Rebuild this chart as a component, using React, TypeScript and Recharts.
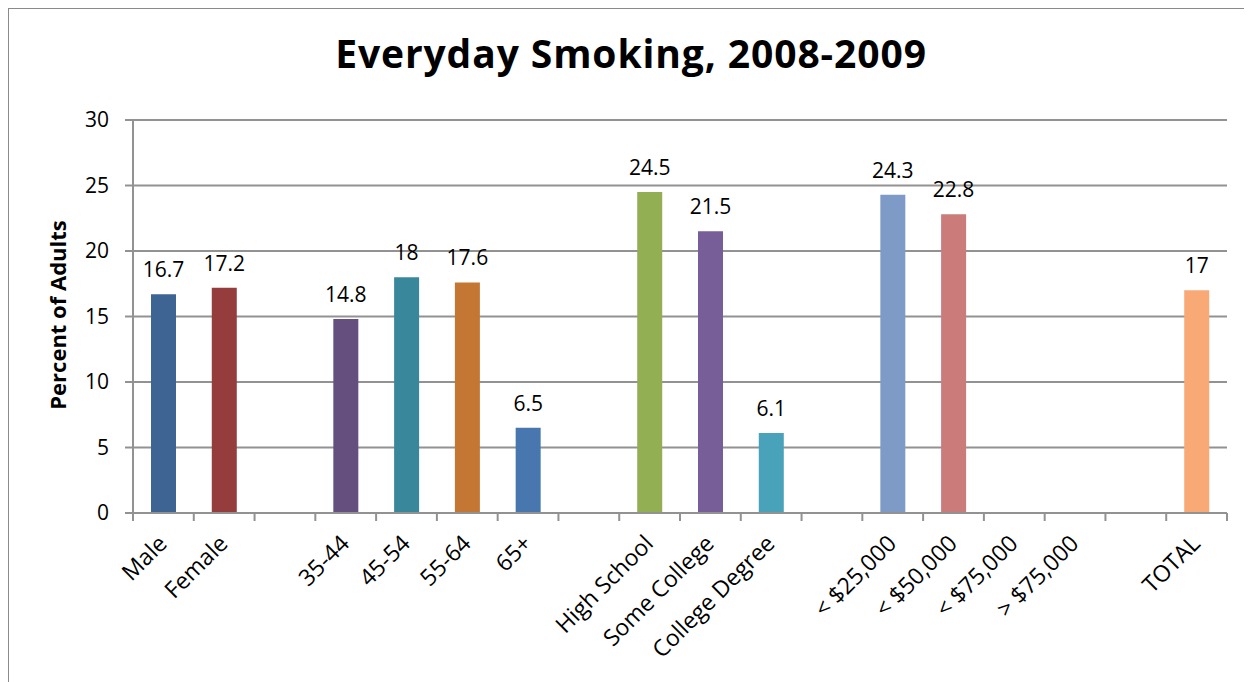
import { BarChart, Bar, XAxis, YAxis, CartesianGrid, Cell, LabelList } from 'recharts';

// categories (blank ones are the spacer slots between groups)
const categories = [
    'Male', 'Female', '',
    '35-44', '45-54', '55-64', '65+', '',
    'High School', 'Some College', 'College Degree', '',
    '< $25,000', '< $50,000', '< $75,000', '> $75,000', '',
    'TOTAL',
];

const smokingPct = [
    16.7, 17.2, null,
    14.8, 18, 17.6, 6.5, null,
    24.5, 21.5, 6.1, null,
    24.3, 22.8, null, null, null,
    17,
];

const barColors = [
    '#3e6494', '#953d3c', '#ffffff',
    '#654f7f', '#38879a', '#c47733', '#4877b0', '#ffffff',
    '#92af54', '#785e98', '#47a2ba', '#ffffff',
    '#7e9bc8', '#ca7b7a', '#ffffff', '#ffffff', '#ffffff',
    '#f8a976',
];

const yTicks = [0, 5, 10, 15, 20, 25, 30];

const data = categories.map((name, i) => ({ name, value: smokingPct[i] }));

const FONT = '"Open Sans", sans-serif';
const GRID = '#929292';

const W = 1243;
const H = 673;
const MARGIN = { top: 111, right: 25, bottom: 19, left: 65 };
const Y_W = 60;
const BAND = (W - MARGIN.left - MARGIN.right - Y_W) / categories.length;

const XTick = (props: any) => {
    const { x, y, payload, index } = props;
    const half = payload?.offset || BAND / 2;
    const last = index === categories.length - 1;
    const ax = x + 5;
    const ay = y + 32;
    return (
        <g>
            <line x1={x - half} x2={x - half} y1={y} y2={y + 8} stroke={GRID} strokeWidth={2} />
            {last && <line x1={x + half} x2={x + half} y1={y} y2={y + 8} stroke={GRID} strokeWidth={2} />}
            {payload.value && (
                <text
                    x={ax}
                    y={ay}
                    transform={`rotate(-45, ${ax}, ${ay})`}
                    textAnchor="end"
                    fontSize={23}
                    fontFamily={FONT}
                    fill="#000"
                >
                    {payload.value}
                </text>
            )}
        </g>
    );
};

const ValueLabel = (props: any) => {
    const { x, y, width, value } = props;
    if (value === null || value === undefined) return null;
    return (
        <text x={x + width / 2} y={y - 17} textAnchor="middle" fontSize={21} fontFamily={FONT} fill="#000">
            {value}
        </text>
    );
};

export default function App() {
    return (
        <div
            style={{
                position: 'relative',
                width: W,
                height: H,
                marginLeft: -1,
                borderLeft: '2px solid #8a8a8a',
                borderTop: '1px solid #8a8a8a',
                background: '#fff',
                fontFamily: FONT,
                overflow: 'hidden',
            }}
        >
            <div
                style={{
                    position: 'absolute',
                    left: 622,
                    top: 17,
                    transform: 'translateX(-50%)',
                    whiteSpace: 'nowrap',
                    fontSize: 39,
                    fontWeight: 700,
                    letterSpacing: 0.9,
                    lineHeight: '53px',
                    color: '#000',
                }}
            >
                Everyday Smoking, 2008-2009
            </div>
            <div
                style={{
                    position: 'absolute',
                    left: 48,
                    top: 306,
                    transform: 'translate(-50%, -50%) rotate(-90deg)',
                    whiteSpace: 'nowrap',
                    fontSize: 22,
                    fontWeight: 700,
                    lineHeight: '22px',
                    color: '#000',
                }}
            >
                Percent of Adults
            </div>
            <BarChart width={W} height={H} data={data} margin={{ ...MARGIN, left: MARGIN.left - 1 }}>
                <CartesianGrid vertical={false} stroke={GRID} strokeWidth={2} />
                <XAxis
                    dataKey="name"
                    interval={0}
                    height={150}
                    tickSize={0}
                    tickMargin={0}
                    axisLine={{ stroke: GRID, strokeWidth: 2 }}
                    tick={<XTick />}
                />
                <YAxis
                    width={Y_W}
                    domain={[0, 30]}
                    ticks={yTicks}
                    interval={0}
                    tickSize={8}
                    tickMargin={16}
                    axisLine={{ stroke: GRID, strokeWidth: 2 }}
                    tickLine={{ stroke: GRID, strokeWidth: 2 }}
                    tick={{ fontSize: 21, fontFamily: FONT, fill: '#000' }}
                />
                <Bar dataKey="value" barSize={25} isAnimationActive={false}>
                    {data.map((d, i) => (
                        <Cell key={i} fill={barColors[i]} />
                    ))}
                    <LabelList dataKey="value" content={<ValueLabel />} />
                </Bar>
            </BarChart>
        </div>
    );
}
